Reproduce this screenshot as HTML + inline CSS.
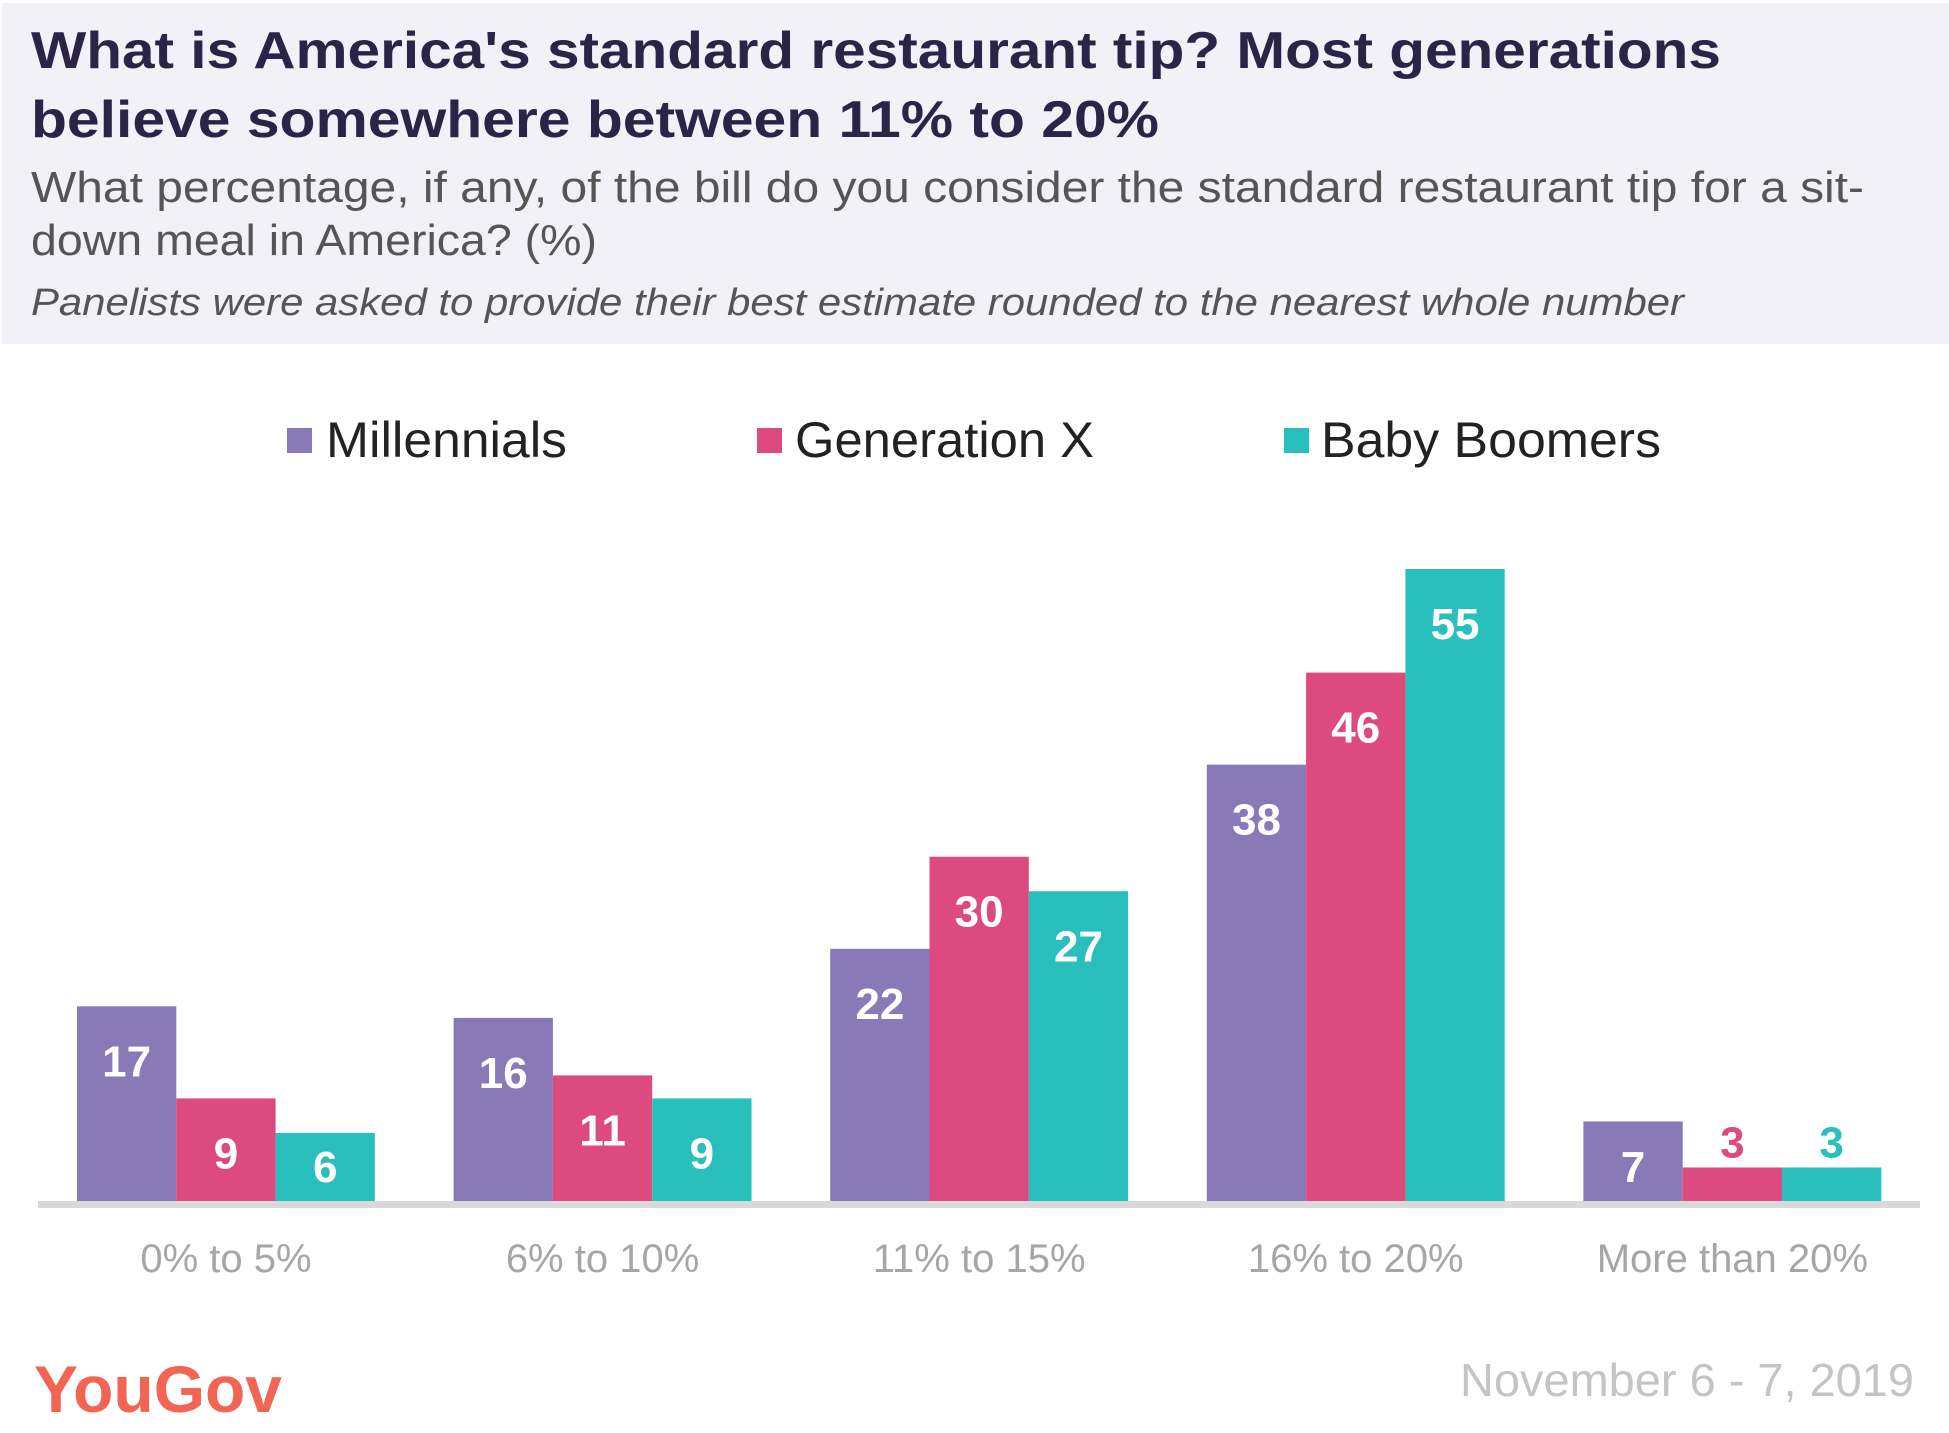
<!DOCTYPE html>
<html><head><meta charset="utf-8"><style>
html,body{margin:0;padding:0;background:#fff;}
svg{display:block;font-family:"Liberation Sans",sans-serif;}
</style></head><body>
<svg id="chart" width="1949" height="1433" viewBox="0 0 1949 1433">
<rect x="2" y="3" width="1947" height="341" fill="#f2f1f8"/>
<text x="31" y="68" font-size="52" font-weight="bold" fill="#2c2447" textLength="1690" lengthAdjust="spacingAndGlyphs">What is America's standard restaurant tip? Most generations</text>
<text x="31" y="137" font-size="52" font-weight="bold" fill="#2c2447" textLength="1128" lengthAdjust="spacingAndGlyphs">believe somewhere between 11% to 20%</text>
<text x="31" y="202" font-size="44" fill="#555" textLength="1833" lengthAdjust="spacingAndGlyphs">What percentage, if any, of the bill do you consider the standard restaurant tip for a sit-</text>
<text x="31" y="255" font-size="44" fill="#555" textLength="566" lengthAdjust="spacingAndGlyphs">down meal in America? (%)</text>
<text x="31" y="315" font-size="38" font-style="italic" fill="#555" textLength="1653" lengthAdjust="spacingAndGlyphs">Panelists were asked to provide their best estimate rounded to the nearest whole number</text>
<g id="legend"></g>
<g id="bars"></g>
<rect x="38" y="1201" width="1882" height="7" fill="#d9d9d9"/>
<g id="xlabels"></g>
<text x="34" y="1412" font-size="66" font-weight="bold" fill="#f26552" textLength="248" lengthAdjust="spacingAndGlyphs">YouGov</text>
<text x="1914" y="1396" font-size="46" fill="#c4c4c4" text-anchor="end" textLength="454" lengthAdjust="spacingAndGlyphs">November 6 - 7, 2019</text>
</svg>
<script>
const categories = ["0% to 5%", "6% to 10%", "11% to 15%", "16% to 20%", "More than 20%"];
const seriesNames = ["Millennials", "Generation X", "Baby Boomers"];
const millennials = [17, 16, 22, 38, 7];
const genX = [9, 11, 30, 46, 3];
const boomers = [6, 9, 27, 55, 3];
const series = [millennials, genX, boomers];
const colors = ["#8979b7", "#dc4a80", "#29bfbd"];
const NS = "http://www.w3.org/2000/svg";
const baseY = 1202, unit = 633 / 55;
const x0 = 77, groupStep = 376.6, barW = 99.3;
function yScale(v){ return baseY - v * unit; }
function xScale(ci, si){ return x0 + ci * groupStep + si * barW; }
const bars = document.getElementById('bars');
series.forEach((vals, si) => {
  vals.forEach((v, ci) => {
    const r = document.createElementNS(NS, 'rect');
    
    
    r.setAttribute('x', xScale(ci, si));
    r.setAttribute('y', yScale(v));
    r.setAttribute('width', barW);
    r.setAttribute('height', baseY - yScale(v));
    r.setAttribute('fill', colors[si]);
    bars.appendChild(r);
    const t = document.createElementNS(NS, 'text');
    
    
    const top = yScale(v);
    let cy, fill = '#fff';
    if (baseY - top < 50) { cy = top - 26; fill = colors[si]; }
    else cy = Math.min(top + 54, baseY - 36);
    t.setAttribute('x', xScale(ci, si) + barW / 2);
    t.setAttribute('y', cy + 16);
    t.setAttribute('text-anchor', 'middle');
    t.setAttribute('font-size', '44');
    t.setAttribute('font-weight', 'bold');
    t.setAttribute('fill', fill);
    t.textContent = v;
    bars.appendChild(t);
  });
});
const xl = document.getElementById('xlabels');
categories.forEach((c, ci) => {
  const t = document.createElementNS(NS, 'text');
  
  
  t.setAttribute('x', xScale(ci, 1.5));
  t.setAttribute('y', 1272);
  t.setAttribute('text-anchor', 'middle');
  t.setAttribute('font-size', '40');
  t.setAttribute('fill', '#a6a6a6');
  t.textContent = c;
  xl.appendChild(t);
});
const lg = document.getElementById('legend');
const legSq = [287, 757, 1284];
const legTxt = [[326, 241], [795, 299], [1321, 340]];
seriesNames.forEach((n, i) => {
  const r = document.createElementNS(NS, 'rect');
  
  
  r.setAttribute('x', legSq[i]); r.setAttribute('y', 428);
  r.setAttribute('width', 25); r.setAttribute('height', 25);
  r.setAttribute('fill', colors[i]);
  lg.appendChild(r);
  const t = document.createElementNS(NS, 'text');
  
  
  t.setAttribute('x', legTxt[i][0]); t.setAttribute('y', 457);
  t.setAttribute('font-size', '50');
  t.setAttribute('fill', '#222');
  t.setAttribute('textLength', legTxt[i][1]);
  t.setAttribute('lengthAdjust', 'spacingAndGlyphs');
  t.textContent = n;
  lg.appendChild(t);
});
</script>
</body></html>
